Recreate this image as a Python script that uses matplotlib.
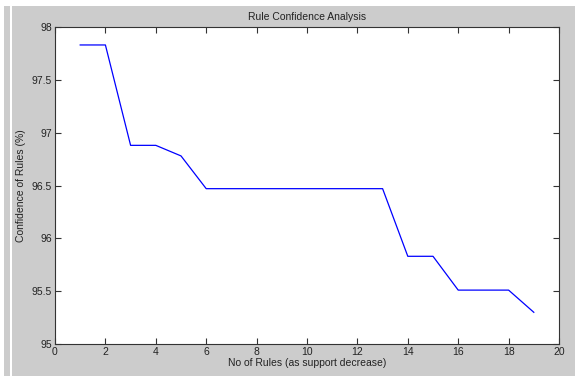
import matplotlib.pyplot as plt
from matplotlib.patches import Rectangle

plt.rcParams['font.family'] = ['Liberation Sans', 'DejaVu Sans']

rules = [1, 2, 3, 4, 5, 6, 7, 8, 9, 10, 11, 12, 13, 14, 15, 16, 17, 18, 19]
confidence = [97.83, 97.83, 96.88, 96.88, 96.78, 96.47, 96.47, 96.47, 96.47, 96.47,
              96.47, 96.47, 96.47, 95.83, 95.83, 95.51, 95.51, 95.51, 95.30]

W, H = 575, 376
gray = "#cccccc"
fig = plt.figure(figsize=(W / 100, H / 100), dpi=100, facecolor="white")

# MATLAB-style grey figure area with a strip on the left
fig.patches.append(Rectangle((12 / W, 0), 1 - 12 / W, (H - 6) / H, transform=fig.transFigure,
                             facecolor=gray, edgecolor="none", zorder=-10))
fig.patches.append(Rectangle((4 / W, 0), 6 / W, (H - 6) / H, transform=fig.transFigure,
                             facecolor=gray, edgecolor="none", zorder=-10))

ax = fig.add_axes([55 / W, (H - 344) / H, (559 - 55) / W, (344 - 27) / H])
ax.set_facecolor("white")
ax.plot(rules, confidence, color="#0000ff", linewidth=0.9)

ax.set_xlim(0, 20)
ax.set_ylim(95, 98)
ax.set_xticks(range(0, 21, 2))
ax.set_yticks([95, 95.5, 96, 96.5, 97, 97.5, 98])
ax.set_yticklabels(["95", "95.5", "96", "96.5", "97", "97.5", "98"])
ax.tick_params(direction="in", length=4, width=0.8, labelsize=7.5, colors="#333333",
               top=True, right=True, labelcolor="#222222", pad=2)
for s in ax.spines.values():
    s.set_color("#333333")
    s.set_linewidth(0.8)

ax.set_title("Rule Confidence Analysis", fontsize=7.5, color="#222222", pad=5)
ax.set_xlabel("No of Rules (as support decrease)", fontsize=7.5, color="#222222", labelpad=1)
ax.set_ylabel("Confidence of Rules (%)", fontsize=7.5, color="#222222", labelpad=4)

fig.savefig("out.png", dpi=100, facecolor="white")
